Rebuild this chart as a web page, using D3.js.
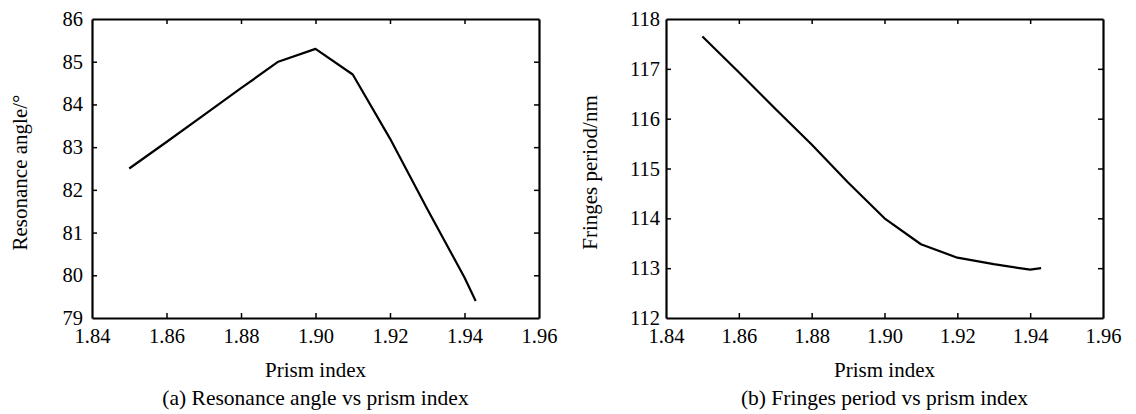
<!DOCTYPE html>
<html lang="en">

<head>
    <meta charset="UTF-8">
    <script src="https://cdnjs.cloudflare.com/ajax/libs/d3/7.9.0/d3.min.js"></script>
    <title>Prism index charts</title>
    <style>
        body {
            margin: 0;
            background-color: white;
        }

        svg {
            display: block;
            font-family: "Liberation Serif", "Times New Roman", serif;
        }
    </style>
</head>

<body>
    <div id="content"></div>
    <script>
        const width = 1136;
        const height = 414;

        // data
        const prismIndex = [1.85, 1.86, 1.87, 1.88, 1.89, 1.90, 1.91, 1.92, 1.93, 1.94, 1.943];
        const resonanceAngle = [82.5, 83.12, 83.75, 84.38, 85.0, 85.3, 84.7, 83.2, 81.55, 79.95, 79.4];
        const fringesPeriod = [117.65, 116.93, 116.2, 115.48, 114.72, 114.0, 113.48, 113.21, 113.08, 112.97, 113.0];

        const xTicks = [1.84, 1.86, 1.88, 1.90, 1.92, 1.94, 1.96];
        const angleTicks = [79, 80, 81, 82, 83, 84, 85, 86];
        const periodTicks = [112, 113, 114, 115, 116, 117, 118];

        const panels = [
            {
                left: 92, right: 539, yValues: resonanceAngle, yTicks: angleTicks,
                yLabel: "Resonance angle/°", caption: "(a) Resonance angle vs prism index",
                labelX: 27, labelPad: 9
            },
            {
                left: 666, right: 1103, yValues: fringesPeriod, yTicks: periodTicks,
                yLabel: "Fringes period/nm", caption: "(b) Fringes period vs prism index",
                labelX: 597, labelPad: 6
            }
        ];

        const plotTop = 19, plotBottom = 318;

        const svg = d3.select("#content")
            .append("svg")
            .attr("width", width)
            .attr("height", height);

        panels.forEach(p => {
            const x = d3.scaleLinear()
                .domain([xTicks[0], xTicks[xTicks.length - 1]])
                .range([p.left, p.right]);

            const y = d3.scaleLinear()
                .domain([p.yTicks[0], p.yTicks[p.yTicks.length - 1]])
                .range([plotBottom, plotTop]);

            const g = svg.append("g");

            // axes with inward ticks (box style)
            const xAxis = d3.axisBottom(x).tickValues(xTicks).tickFormat(d3.format(".2f"))
                .tickSizeInner(-5).tickSizeOuter(0).tickPadding(10);
            const xTop = d3.axisTop(x).tickValues(xTicks).tickFormat("")
                .tickSizeInner(-5).tickSizeOuter(0);
            const yAxis = d3.axisLeft(y).tickValues(p.yTicks).tickFormat(d3.format("d"))
                .tickSizeInner(-5).tickSizeOuter(0).tickPadding(p.labelPad);
            const yRight = d3.axisRight(y).tickValues(p.yTicks).tickFormat("")
                .tickSizeInner(-5).tickSizeOuter(0);

            g.append("g").attr("transform", `translate(0,${plotBottom})`).call(xAxis);
            g.append("g").attr("transform", `translate(0,${plotTop})`).call(xTop);
            g.append("g").attr("transform", `translate(${p.left},0)`).call(yAxis);
            g.append("g").attr("transform", `translate(${p.right},0)`).call(yRight);

            g.selectAll(".domain").attr("stroke", "#000").attr("stroke-width", 2.2);
            g.selectAll(".tick line").attr("stroke", "#000").attr("stroke-width", 1.5);
            g.selectAll(".tick text")
                .attr("fill", "#000")
                .style("font-family", "'Liberation Serif', serif")
                .style("font-size", "20.5px");

            // skip tick marks sitting on the box corners
            g.selectAll(".tick").filter(d => d === xTicks[0] || d === xTicks[xTicks.length - 1] ||
                d === p.yTicks[0] || d === p.yTicks[p.yTicks.length - 1])
                .select("line").remove();

            // data line
            const line = d3.line()
                .x((d, i) => x(prismIndex[i]))
                .y(d => y(d));

            g.append("path")
                .datum(p.yValues)
                .attr("fill", "none")
                .attr("stroke", "#000")
                .attr("stroke-width", 2.2)
                .attr("stroke-linejoin", "round")
                .attr("d", line);

            const cx = (p.left + p.right) / 2;

            // axis titles
            g.append("text")
                .attr("x", cx)
                .attr("y", 377)
                .attr("text-anchor", "middle")
                .style("font-size", "21px")
                .text("Prism index");

            g.append("text")
                .attr("transform", `translate(${p.labelX},${(plotTop + plotBottom) / 2 + 4}) rotate(-90)`)
                .attr("text-anchor", "middle")
                .style("font-size", "21px")
                .text(p.yLabel);

            // caption
            g.append("text")
                .attr("x", cx)
                .attr("y", 405)
                .attr("text-anchor", "middle")
                .style("font-size", "21.5px")
                .text(p.caption);
        });
    </script>
</body>

</html>
